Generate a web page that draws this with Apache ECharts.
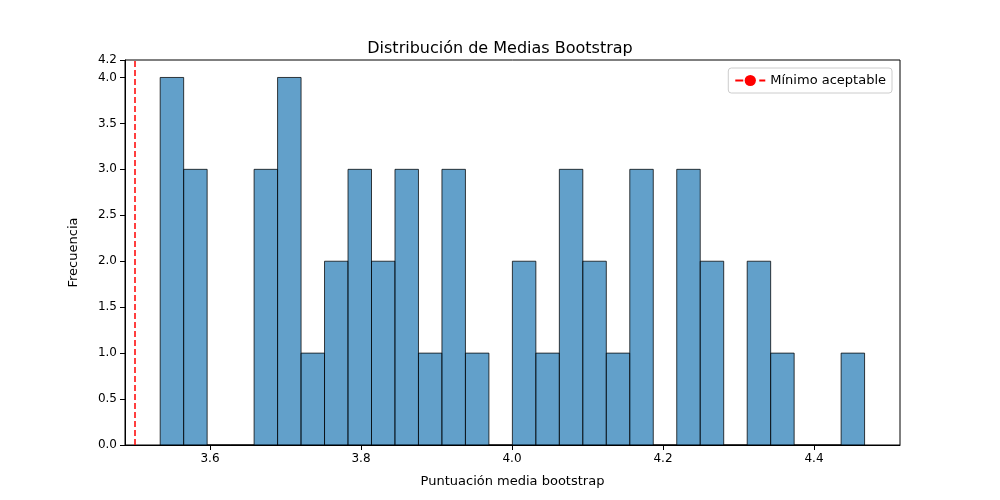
<!DOCTYPE html>
<html>
<head>
<meta charset="utf-8">
<script src="https://cdn.jsdelivr.net/npm/echarts@6/dist/echarts.min.js"></script>
<style>html,body{margin:0;background:#fff}#main{width:1000px;height:500px}</style>
</head>
<body>
<div id="main"></div>
<script>
// histogram bins: first edge and width, counts per bin
var binStart = 3.534;
var binWidth = 0.0311;
var counts = [4, 3, 0, 0, 3, 4, 1, 2, 3, 2, 3, 1, 3, 1, 0, 2, 1, 3, 2, 1, 3, 0, 3, 2, 0, 2, 1, 0, 0, 1];
var xTicks = [3.6, 3.8, 4.0, 4.2, 4.4];
var threshold = 3.5;

var bins = counts.map(function (c, i) {
	return [binStart + i * binWidth, binStart + (i + 1) * binWidth, c];
});

var chart = echarts.init(document.getElementById('main'));
chart.setOption({
	animation: false,
	textStyle: { fontFamily: 'DejaVu Sans' },
	title: {
		text: 'Distribución de Medias Bootstrap',
		left: 'center', top: 36,
		textStyle: { fontSize: 16, fontWeight: 'normal', color: '#000' }
	},
	legend: {
		right: 108, top: 68,
		data: ['Mínimo aceptable'],
		itemWidth: 30,
		textStyle: { fontSize: 13, color: '#000' },
		borderColor: '#ccc', borderWidth: 1, borderRadius: 3, padding: [6, 6]
	},
	grid: { left: 125, right: 100, top: 60, bottom: 55, show: true, borderColor: '#000', borderWidth: 1 },
	xAxis: {
		type: 'value', min: 3.4874, max: 4.5139,
		name: 'Puntuación media bootstrap', nameLocation: 'middle', nameGap: 30,
		nameTextStyle: { fontSize: 13, color: '#000' },
		splitLine: { show: false },
		axisLine: { lineStyle: { color: '#000' } },
		axisTick: { show: true, customValues: xTicks, lineStyle: { color: '#000' } },
		axisLabel: { customValues: xTicks, color: '#000', fontSize: 12, formatter: function (v) { return v.toFixed(1); } }
	},
	yAxis: {
		type: 'value', min: 0, max: 4.19, interval: 0.5,
		name: 'Frecuencia', nameLocation: 'middle', nameGap: 45,
		nameTextStyle: { fontSize: 13, color: '#000' },
		splitLine: { show: false },
		axisLine: { show: true, lineStyle: { color: '#000' } },
		axisTick: { show: true, lineStyle: { color: '#000' } },
		axisLabel: { color: '#000', fontSize: 12, formatter: function (v) { return v.toFixed(1); } }
	},
	series: [{
		type: 'custom',
		data: bins,
		renderItem: function (params, api) {
			var p0 = api.coord([api.value(0), api.value(2)]);
			var p1 = api.coord([api.value(1), 0]);
			return {
				type: 'rect',
				shape: { x: p0[0], y: p0[1], width: p1[0] - p0[0], height: p1[1] - p0[1] },
				style: { fill: 'rgba(31,119,180,0.7)', stroke: 'rgba(0,0,0,0.75)', lineWidth: 1 }
			};
		}
	}, {
		name: 'Mínimo aceptable',
		type: 'line', data: [], symbol: 'none',
		lineStyle: { color: '#ff0000', type: 'dashed', width: 1.5 },
		itemStyle: { color: '#ff0000' },
		markLine: {
			silent: true, symbol: 'none', label: { show: false },
			lineStyle: { color: '#ff0000', type: 'dashed', width: 1.5 },
			data: [{ xAxis: threshold }]
		}
	}]
});
</script>
</body>
</html>
